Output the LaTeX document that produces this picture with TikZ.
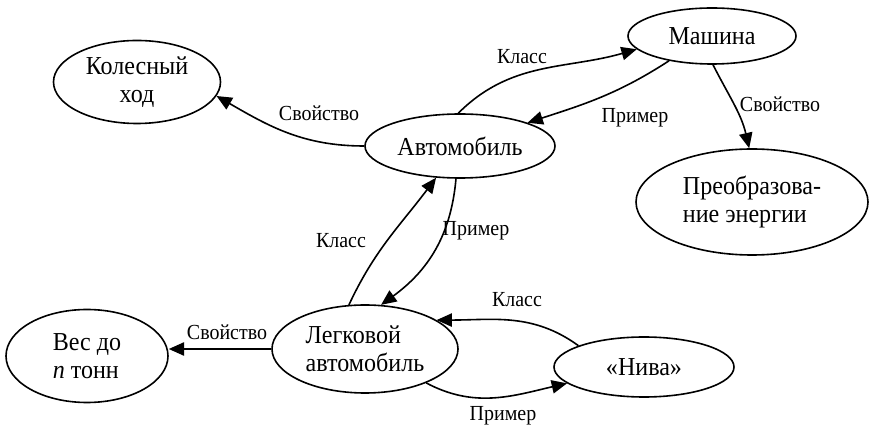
\documentclass[tikz,border=0pt]{standalone}
\usepackage{fontspec}
\setmainfont[FakeStretch=0.93]{Liberation Serif}
\usetikzlibrary{shapes.geometric,arrows.meta}

% une unite = un pixel de l'image
\def\px{0.75pt}

\begin{document}
\begin{tikzpicture}[x=\px,y=\px,
  concept/.style={draw, ellipse, line width=1.2pt, inner sep=0pt, align=center,
    font=\fontsize{19.4}{21}\selectfont},
  link/.style={-{Triangle[length=11.5pt,width=10pt]}, line width=1.2pt},
  linklabel/.style={inner sep=0pt, font=\fontsize{16.1}{18}\selectfont}]
  % Cadre de l'image
  \useasboundingbox (0,0) rectangle (871,428);

  % Concepts
  \node[concept, minimum width=167*\px, minimum height=83*\px] (koles) at (137,346) {Колесный\\ход};
  \node[concept, minimum width=190*\px, minimum height=64*\px] (avto) at (460,282) {Автомобиль};
  \node[concept, minimum width=168*\px, minimum height=56*\px] (mash) at (712,392) {Машина};
  \node[concept, minimum width=232*\px, minimum height=106*\px, align=left] (preob) at (752,226) {Преобразова-\\ние энергии};
  \node[concept, minimum width=186*\px, minimum height=88*\px, align=left] (legk) at (365,79) {Легковой\\автомобиль};
  \node[concept, minimum width=162*\px, minimum height=93*\px, align=left] (ves) at (87,72) {Вес до\\\textit{n} тонн};
  \node[concept, minimum width=180*\px, minimum height=60*\px] (niva) at (644,61) {«Нива»};

  % Liens
  \draw[link] (avto.west) to[out=180,in=-30] (koles.-10);
  \draw[link] (avto.93) to[out=45,in=196] (mash.190);
  \draw[link] (mash.210) to[out=213,in=18] (avto.19);
  \draw[link] (mash.-88) to[out=-63,in=103] (preob.93);
  \draw[link] (legk.110) to[out=65,in=233] (avto.233);
  \draw[link] (avto.263) to[out=-95,in=36] (legk.70);
  \draw[link] (legk.west) -- (legk.west -| ves.east);
  \draw[link] (niva.162) to[out=144,in=0] (legk.22);
  \draw[link] (legk.-29) to[out=-28,in=193] (niva.192);

  % Etiquettes des liens
  \node[linklabel] (propKoles) at (319,315) {Свойство};
  \node[linklabel] (classMash) at (522,371) {Класс};
  \node[linklabel] (exAvto) at (635,310) {Пример};
  \node[linklabel] (propPreob) at (780,324) {Свойство};
  \node[linklabel] (classAvto) at (341,187) {Класс};
  \node[linklabel] (exLegk) at (476,197) {Пример};
  \node[linklabel] (propVes) at (227,96) {Свойство};
  \node[linklabel] (classLegk) at (517,128) {Класс};
  \node[linklabel] (exNiva) at (503,12) {Пример};
\end{tikzpicture}
\end{document}
